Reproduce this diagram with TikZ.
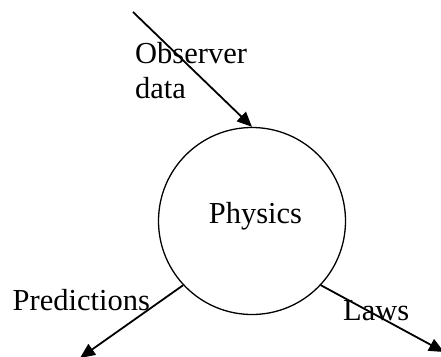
\documentclass[tikz,border=0pt]{standalone}
\usepackage{fontspec}
\setmainfont{Liberation Serif}
\usetikzlibrary{arrows.meta}
\begin{document}
\begin{tikzpicture}[x=1pt,y=-1pt,
  lbl/.style={inner sep=0pt,font=\fontsize{30.5}{35}\selectfont},
  flow/.style={line width=1.8pt,-{Triangle[length=15pt,width=13pt]}}]
\useasboundingbox (0,0) rectangle (441,356);
\node[draw,circle,line width=1.3pt,minimum size=187pt,inner sep=0pt] (phys) at (252,221) {};
\node[lbl,anchor=base] (physlbl) at (255.5,223) {Physics};
\coordinate (src) at (133,12);
\coordinate (pred) at (80,358);
\coordinate (laws) at (444,352);
\draw[flow] (src) -- (phys.north);
\draw[flow] (phys.223) -- (pred);
\draw[flow] (phys.317) -- (laws);
\node[lbl,anchor=base west,align=left] (obs) at (135,98) {Observer\\data};
\node[lbl,anchor=base west] (predlbl) at (12.5,310) {Predictions};
\node[lbl,anchor=base west] (lawslbl) at (343,320) {Laws};
\end{tikzpicture}
\end{document}
